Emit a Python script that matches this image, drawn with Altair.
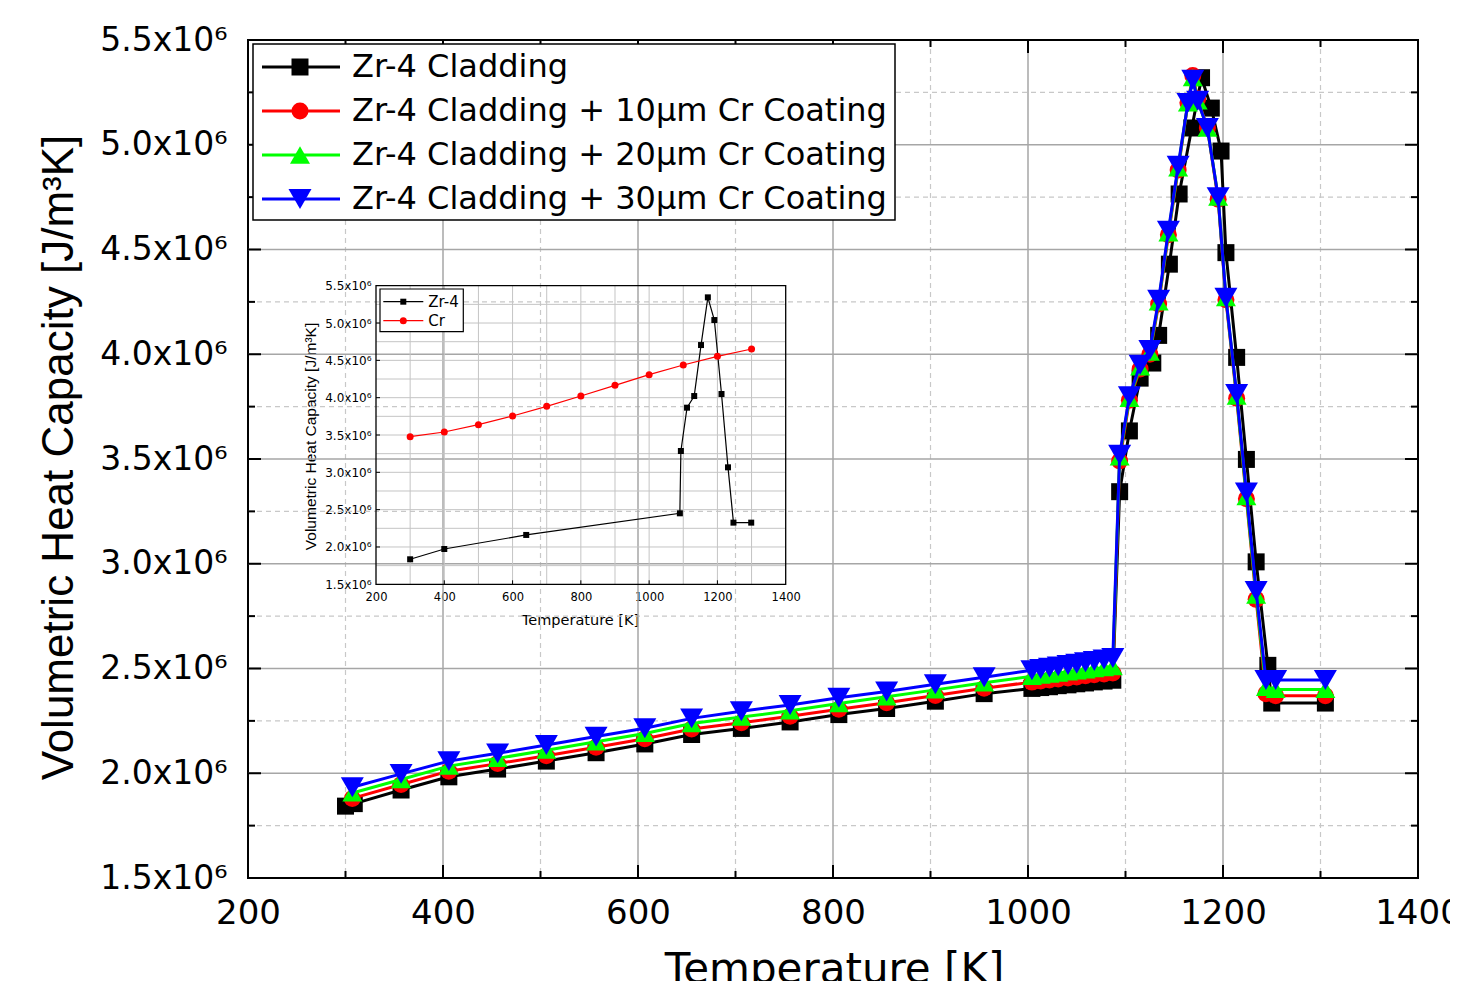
import altair as alt
import pandas as pd

# ---------------- data (heat capacity in units of 10^6 J/m^3K) ----------------
series_names = [
    "Zr-4 Cladding",
    "Zr-4 Cladding + 10μm Cr Coating",
    "Zr-4 Cladding + 20μm Cr Coating",
    "Zr-4 Cladding + 30μm Cr Coating",
]
series_colors = ["#000000", "#ff0000", "#00ff00", "#0000ff"]
series_shapes = ["square", "circle", "triangle-up", "triangle-down"]
series_sizes = [289, 289, 400, 529]

zr_T = [300, 309, 357, 406, 456, 506, 557, 607, 655, 706, 756, 806, 855, 905, 955,
        1004, 1013, 1022, 1031, 1041, 1050, 1059, 1068, 1078, 1087,
        1094, 1104, 1115, 1128, 1134, 1145, 1155, 1168, 1178, 1188, 1198, 1203,
        1214, 1224, 1234, 1246, 1250, 1305]
zr_C = [1.843, 1.855, 1.920, 1.983, 2.020, 2.058, 2.098, 2.140, 2.185, 2.214, 2.245, 2.280, 2.309, 2.344, 2.380,
        2.405, 2.409, 2.413, 2.418, 2.422, 2.427, 2.431, 2.436, 2.440, 2.444,
        3.344, 3.634, 3.886, 3.958, 4.090, 4.430, 4.765, 5.080, 5.320, 5.175, 4.970, 4.485,
        3.985, 3.498, 3.009, 2.515, 2.335, 2.335]

coat_T = [307, 357, 406, 456, 506, 557, 607, 655, 706, 756, 806, 855, 905, 955,
          1004, 1013, 1022, 1031, 1041, 1050, 1059, 1068, 1078, 1087,
          1094, 1104, 1115, 1125, 1134, 1144, 1154, 1164, 1169, 1174, 1184, 1195, 1203,
          1214, 1224, 1234, 1244, 1254, 1305]
c10_C = [1.880, 1.946, 2.010, 2.046, 2.084, 2.124, 2.165, 2.211, 2.241, 2.272, 2.306, 2.337, 2.371, 2.406,
         2.435, 2.440, 2.445, 2.450, 2.455, 2.460, 2.465, 2.470, 2.474, 2.478,
         3.49, 3.78, 3.93, 4.00, 4.24, 4.57, 4.88, 5.20, 5.33, 5.22, 5.08, 4.74, 4.26,
         3.79, 3.31, 2.83, 2.38, 2.37, 2.37]
c20_C = [1.906, 1.970, 2.034, 2.071, 2.110, 2.150, 2.190, 2.237, 2.268, 2.298, 2.333, 2.365, 2.398, 2.432,
         2.463, 2.468, 2.473, 2.478, 2.484, 2.489, 2.494, 2.499, 2.504, 2.509,
         3.51, 3.79, 3.94, 4.01, 4.25, 4.58, 4.89, 5.20, 5.32, 5.21, 5.08, 4.75, 4.27,
         3.80, 3.32, 2.85, 2.41, 2.40, 2.40]
c30_C = [1.933, 1.997, 2.058, 2.095, 2.135, 2.175, 2.215, 2.262, 2.296, 2.326, 2.360, 2.390, 2.425, 2.458,
         2.492, 2.498, 2.504, 2.510, 2.517, 2.523, 2.530, 2.536, 2.543, 2.550,
         3.52, 3.80, 3.95, 4.02, 4.26, 4.59, 4.90, 5.20, 5.31, 5.21, 5.08, 4.75, 4.27,
         3.81, 3.34, 2.87, 2.445, 2.445, 2.445]

inset_names = ["Zr-4", "Cr"]
inset_zr_T = [300, 400, 640, 1090, 1093, 1111, 1132, 1152, 1172, 1191, 1212, 1231, 1247, 1299]
inset_zr_C = [1.835, 1.973, 2.161, 2.451, 3.286, 3.866, 4.022, 4.705, 5.344, 5.040, 4.049, 3.067, 2.326, 2.326]
inset_cr_T = [300, 400, 500, 600, 700, 800, 900, 1000, 1100, 1200, 1300]
inset_cr_C = [3.478, 3.540, 3.638, 3.754, 3.884, 4.022, 4.165, 4.308, 4.438, 4.554, 4.652]

x_ticks = [200, 400, 600, 800, 1000, 1200, 1400]
x_minor = [300, 500, 700, 900, 1100, 1300]
y_ticks = [1.5, 2.0, 2.5, 3.0, 3.5, 4.0, 4.5, 5.0, 5.5]
y_minor = [1.75, 2.25, 2.75, 3.25, 3.75, 4.25, 4.75, 5.25]
inset_x_grid = [300, 400, 500, 600, 700, 800, 900, 1000, 1100, 1200, 1300]
inset_y_grid = [1.75, 2.0, 2.25, 2.5, 2.75, 3.0, 3.25, 3.5, 3.75, 4.0, 4.25, 4.5, 4.75, 5.0, 5.25]

# ---------------- layout ----------------
W, H = 1170, 838
IX0, IX1 = 128, 537.7      # inset plot area (pixels inside main plot)
IY0, IY1 = 544.3, 245.7
HFONT = "DejaVu Sans"
VFONT = "Liberation Sans"
LBL = "format(datum.value, '.1f') + 'x10⁶'"

main_xs = alt.Scale(domain=[200, 1400], nice=False, zero=False)
main_ys = alt.Scale(domain=[1.5, 5.5], nice=False, zero=False)
ins_xs = alt.Scale(domain=[200, 1400], range=[IX0, IX1], nice=False, zero=False)
ins_ys = alt.Scale(domain=[1.5, 5.5], range=[IY0, IY1], nice=False, zero=False)

main_x_axis = alt.Axis(values=x_ticks, format="d", labelFont=HFONT, labelFontSize=34, labelColor="black",
                       labelPadding=18, ticks=False, tickSize=0, domain=False, grid=False,
                       labelFlush=False, labelOverlap=False,
                       title="Temperature [K]", titleFont=HFONT, titleFontSize=42,
                       titleFontWeight="normal", titleColor="black", titleX=586, titleY=104,
                       titleBaseline="alphabetic", titleAlign="center")
main_y_axis = alt.Axis(values=y_ticks, labelExpr=LBL, labelFont=HFONT, labelFontSize=33,
                       labelColor="black", labelPadding=21, ticks=False, tickSize=0, domain=False,
                       grid=False, labelFlush=False, labelOverlap=False,
                       title="Volumetric Heat Capacity [J/m³K]", titleFont=VFONT, titleFontSize=44,
                       titleFontWeight="normal", titleColor="black", titleAngle=270,
                       titleX=-176, titleY=417, titleBaseline="alphabetic", titleAlign="center")
ins_x_axis = alt.Axis(orient="bottom", offset=-(H - IY0), values=x_ticks, format="d", labelFont=HFONT,
                      labelFontSize=11.5, labelColor="black", labelPadding=7, ticks=False,
                      tickSize=0, domain=False, grid=False, labelFlush=False, labelOverlap=False,
                      title="Temperature [K]", titleFont=HFONT, titleFontSize=14.5,
                      titleFontWeight="normal", titleColor="black", titleX=332, titleY=40,
                      titleBaseline="alphabetic", titleAlign="center")
ins_y_axis = alt.Axis(orient="left", offset=-IX0, values=y_ticks, labelExpr=LBL, labelFont=HFONT,
                      labelFontSize=12, labelColor="black", labelPadding=5, ticks=False,
                      tickSize=0, domain=False, grid=False, labelFlush=False, labelOverlap=False,
                      title="Volumetric Heat Capacity [J/m³K]", titleFont=VFONT, titleFontSize=15.5,
                      titleFontWeight="normal", titleColor="black", titleAngle=270,
                      titleX=-61, titleY=396, titleBaseline="alphabetic", titleAlign="center")


def mx(f="v"):
    return alt.X(f"{f}:Q", scale=main_xs, axis=main_x_axis)


def my(f="v"):
    return alt.Y(f"{f}:Q", scale=main_ys, axis=main_y_axis)


def ix(f="v"):
    return alt.X(f"{f}:Q", scale=ins_xs, axis=ins_x_axis)


def iy(f="v"):
    return alt.Y(f"{f}:Q", scale=ins_ys, axis=ins_y_axis)


def vdf(vals):
    return pd.DataFrame({"v": vals})


one = pd.DataFrame({"a": [0]})

main_layers = []
# grid
dash = dict(color="#c8c8c8", strokeWidth=1.2, strokeDash=[5, 4])
solid = dict(color="#a6a6a6", strokeWidth=1.5)
main_layers.append(alt.Chart(vdf(x_minor)).mark_rule(**dash).encode(x=mx(), y=alt.value(0), y2=alt.value(H)))
main_layers.append(alt.Chart(vdf(y_minor)).mark_rule(**dash).encode(y=my(), x=alt.value(0), x2=alt.value(W)))
main_layers.append(alt.Chart(vdf(x_ticks[1:-1])).mark_rule(**solid).encode(x=mx(), y=alt.value(0), y2=alt.value(H)))
main_layers.append(alt.Chart(vdf(y_ticks[1:-1])).mark_rule(**solid).encode(y=my(), x=alt.value(0), x2=alt.value(W)))

# inward ticks on all four sides
for vals, L in ((x_ticks[1:-1], 13), (x_minor, 7)):
    main_layers.append(alt.Chart(vdf(vals)).mark_rule(color="black", strokeWidth=2).encode(
        x=mx(), y=alt.value(H), y2=alt.value(H - L)))
    main_layers.append(alt.Chart(vdf(vals)).mark_rule(color="black", strokeWidth=2).encode(
        x=mx(), y=alt.value(0), y2=alt.value(L)))
for vals, L in ((y_ticks[1:-1], 13), (y_minor, 7)):
    main_layers.append(alt.Chart(vdf(vals)).mark_rule(color="black", strokeWidth=2).encode(
        y=my(), x=alt.value(0), x2=alt.value(L)))
    main_layers.append(alt.Chart(vdf(vals)).mark_rule(color="black", strokeWidth=2).encode(
        y=my(), x=alt.value(W), x2=alt.value(W - L)))

# series
series_data = [(zr_T, zr_C), (coat_T, c10_C), (coat_T, c20_C), (coat_T, c30_C)]
for (T, C), col, shp, sz in zip(series_data, series_colors, series_shapes, series_sizes):
    df = pd.DataFrame({"T": T, "C": C})
    main_layers.append(alt.Chart(df).mark_line(color=col, strokeWidth=3).encode(x=mx("T"), y=my("C")))
    main_layers.append(alt.Chart(df).mark_point(shape=shp, filled=True, size=sz, color=col, opacity=1,
                                                strokeWidth=0).encode(x=mx("T"), y=my("C")))

# legend
main_layers.append(alt.Chart(one).mark_rect(fill="white", stroke="black", strokeWidth=1.5).encode(
    x=alt.value(5), x2=alt.value(647), y=alt.value(4), y2=alt.value(180)))
for i, (name, col, shp, sz) in enumerate(zip(series_names, series_colors, series_shapes, series_sizes)):
    yy = 27 + 44 * i
    main_layers.append(alt.Chart(one).mark_rule(color=col, strokeWidth=3).encode(
        x=alt.value(14), x2=alt.value(92), y=alt.value(yy)))
    main_layers.append(alt.Chart(one).mark_point(shape=shp, filled=True, size=sz, color=col, opacity=1,
                                                 strokeWidth=0).encode(x=alt.value(52), y=alt.value(yy)))
    main_layers.append(alt.Chart(pd.DataFrame({"label": [name]})).mark_text(
        align="left", baseline="middle", font=HFONT, fontSize=32, color="black").encode(
        x=alt.value(104), y=alt.value(yy), text="label:N"))

main = alt.layer(*main_layers)

# ---------------- inset ----------------
ins_layers = []
igrid = dict(color="#c4c4c4", strokeWidth=1)
ins_layers.append(alt.Chart(vdf(inset_x_grid)).mark_rule(**igrid).encode(
    x=ix(), y=alt.value(IY1), y2=alt.value(IY0)))
ins_layers.append(alt.Chart(vdf(inset_y_grid)).mark_rule(**igrid).encode(
    y=iy(), x=alt.value(IX0), x2=alt.value(IX1)))
ins_layers.append(alt.Chart(one).mark_rect(filled=False, stroke="black", strokeWidth=1.3).encode(
    x=alt.value(IX0), x2=alt.value(IX1), y=alt.value(IY1), y2=alt.value(IY0)))
ins_layers.append(alt.Chart(vdf(x_ticks[1:-1])).mark_rule(color="black", strokeWidth=1).encode(
    x=ix(), y=alt.value(IY0), y2=alt.value(IY0 - 4)))
ins_layers.append(alt.Chart(vdf(y_ticks[1:-1])).mark_rule(color="black", strokeWidth=1).encode(
    y=iy(), x=alt.value(IX0), x2=alt.value(IX0 + 4)))

ins_series = [(inset_zr_T, inset_zr_C, "#000000", "square", 36),
              (inset_cr_T, inset_cr_C, "#ff0000", "circle", 49)]
for T, C, col, shp, sz in ins_series:
    df = pd.DataFrame({"T": T, "C": C})
    ins_layers.append(alt.Chart(df).mark_line(color=col, strokeWidth=1.2).encode(x=ix("T"), y=iy("C")))
    ins_layers.append(alt.Chart(df).mark_point(shape=shp, filled=True, size=sz, color=col, opacity=1,
                                               strokeWidth=0).encode(x=ix("T"), y=iy("C")))

ins_layers.append(alt.Chart(one).mark_rect(fill="white", stroke="black", strokeWidth=1.2).encode(
    x=alt.value(132), x2=alt.value(215.3), y=alt.value(249), y2=alt.value(291.7)))
for i, (name, (_, _, col, shp, sz)) in enumerate(zip(inset_names, ins_series)):
    yy = 261.7 + 19 * i
    ins_layers.append(alt.Chart(one).mark_rule(color=col, strokeWidth=1.2).encode(
        x=alt.value(135.3), x2=alt.value(175.3), y=alt.value(yy)))
    ins_layers.append(alt.Chart(one).mark_point(shape=shp, filled=True, size=sz, color=col, opacity=1,
                                                strokeWidth=0).encode(x=alt.value(155.3), y=alt.value(yy)))
    ins_layers.append(alt.Chart(pd.DataFrame({"label": [name]})).mark_text(
        align="left", baseline="middle", font=HFONT, fontSize=15, color="black").encode(
        x=alt.value(180.3), y=alt.value(yy), text="label:N"))

inset = alt.layer(*ins_layers)

chart = alt.layer(main, inset).resolve_scale(x="independent", y="independent").properties(
    width=W, height=H,
    padding={"left": 240, "top": 32, "right": 32, "bottom": 103},
    autosize=alt.AutoSizeParams(type="none"),
    background="white",
).configure_view(stroke="black", strokeWidth=2)

chart.save("out.html", embed_options={"renderer": "svg", "actions": False})
